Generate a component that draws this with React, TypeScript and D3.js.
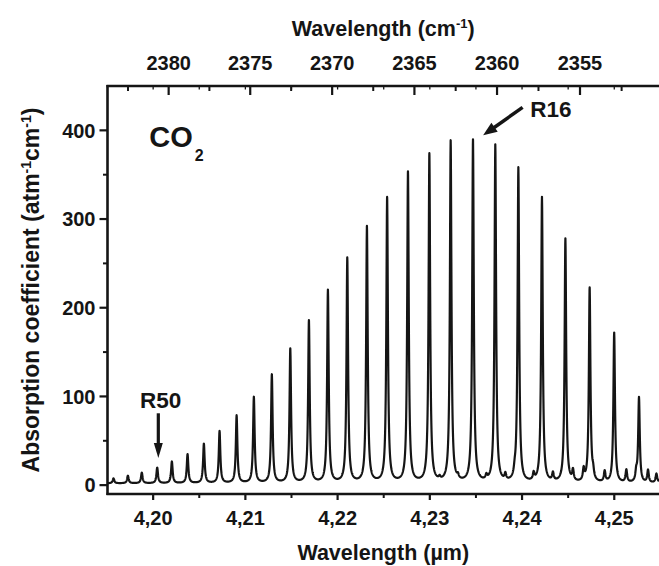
import React, { useMemo } from "react";
import * as d3 from "d3";

const W = 659;
const H = 566;
const PLOT_LEFT = 107.5;
const PLOT_RIGHT = 659;
const PLOT_TOP = 86;
const PLOT_BOTTOM = 494;

const xDomain = [4.19505, 4.25485];
const yDomain = [-10, 450];

// R-branch lines of CO2 (µm, absorption coefficient)
const mainLinePos = [
  4.1957, 4.19726, 4.19877, 4.20044, 4.20203, 4.20373, 4.2055, 4.2072, 4.20905,
  4.21092, 4.21287, 4.21487, 4.21689, 4.21895, 4.22105, 4.22318, 4.22537, 4.22763,
  4.22995, 4.23226, 4.23468, 4.2371, 4.2396, 4.24216, 4.2447, 4.24733, 4.24999,
  4.25268, 4.25548,
];
const mainLineHeight = [
  7.5, 10.5, 13.9, 19.5, 26.3, 34.6, 46.2, 60.5, 78, 98.8, 124, 152.9, 184.8,
  218.9, 255, 290.4, 323, 351.9, 372.2, 386.8, 388, 382.3, 356.4, 323.4, 276.8,
  221, 171, 97.7, 40,
];
// weak hot-band lines
const hotLinePos = [
  4.23106, 4.23305, 4.23613, 4.23819, 4.2392, 4.24126, 4.24335, 4.24552, 4.24668,
  4.24771, 4.24896, 4.25131, 4.25238, 4.25366, 4.25457,
];
const hotLineHeight = [3, 4, 5, 7, 6, 8, 9, 12, 13, 8, 12, 14, 10, 14, 10];

const xMajorTicks = [4.2, 4.21, 4.22, 4.23, 4.24, 4.25];
const xMinorTicks = [4.205, 4.215, 4.225, 4.235, 4.245];
const yMajorTicks = [0, 100, 200, 300, 400];
const yMinorTicks = [50, 150, 250, 350];
const topMajorTicks = [2380, 2375, 2370, 2365, 2360, 2355];
const topMinorTicks = [2382.5, 2377.5, 2372.5, 2367.5, 2362.5, 2357.5, 2352.5];

const baselineLevel = 2;
const halfWidth = 0.0001; // µm

const FONT = "'Liberation Sans', Arial, Helvetica, sans-serif";
const INK = "#151515";

const commaFmt = d3.formatLocale({
  decimal: ",",
  thousands: ".",
  grouping: [3],
  currency: ["", ""],
}).format(".2f");

export default function App() {
  const x = d3.scaleLinear().domain(xDomain).range([PLOT_LEFT, PLOT_RIGHT]);
  const y = d3.scaleLinear().domain(yDomain).range([PLOT_BOTTOM, PLOT_TOP]);

  const pathD = useMemo(() => {
    const n = 3200;
    const step = (xDomain[1] - xDomain[0]) / n;
    const xs = d3.range(xDomain[0], xDomain[1] + step / 2, step)
      .concat(mainLinePos.filter((p) => p >= xDomain[0] && p <= xDomain[1]))
      .concat(hotLinePos.filter((p) => p >= xDomain[0] && p <= xDomain[1]))
      .sort((a, b) => a - b);
    const g2 = halfWidth * halfWidth;
    const pts: [number, number][] = xs.map((v) => {
      let s = baselineLevel;
      mainLinePos.forEach((p, i) => {
        const d = v - p;
        s += (mainLineHeight[i] - baselineLevel) * g2 / (d * d + g2);
      });
      hotLinePos.forEach((p, i) => {
        const d = v - p;
        s += hotLineHeight[i] * g2 / (d * d + g2);
      });
      return [v, s];
    });
    const line = d3.line<[number, number]>()
      .x((d) => x(d[0]))
      .y((d) => y(d[1]));
    return line(pts) || "";
  }, []);

  // annotation anchors in data units
  const r16Tip = [x(4.23578), y(394.4)];
  const r16Tail = [x(4.24006), y(425.9)];
  const r50X = x(4.20056);
  const r50Top = y(81);
  const r50Tip = y(30.5);

  const arrowHead = (tx: number, ty: number, fx: number, fy: number, len: number, wid: number) => {
    const dx = tx - fx;
    const dy = ty - fy;
    const L = Math.sqrt(dx * dx + dy * dy);
    const ux = dx / L, uy = dy / L;
    const bx = tx - ux * len, by = ty - uy * len;
    const px = -uy * wid / 2, py = ux * wid / 2;
    return `M${tx},${ty}L${bx + px},${by + py}L${bx - px},${by - py}Z`;
  };

  return (
    <svg
      width={W}
      height={H}
      style={{ position: "absolute", left: 0, top: 0, background: "#fff" }}
      fontFamily={FONT}
    >
      <defs>
        <clipPath id="plotClip">
          <rect x={PLOT_LEFT} y={PLOT_TOP} width={PLOT_RIGHT - PLOT_LEFT} height={PLOT_BOTTOM - PLOT_TOP} />
        </clipPath>
      </defs>
      <rect x={0} y={0} width={W} height={H} fill="#fff" />

      {/* spectrum */}
      <path d={pathD} fill="none" stroke={INK} strokeWidth={2.2} strokeLinejoin="round" clipPath="url(#plotClip)" />

      {/* axes lines */}
      <line x1={PLOT_LEFT} x2={PLOT_LEFT} y1={PLOT_TOP - 1} y2={PLOT_BOTTOM + 1} stroke={INK} strokeWidth={2.6} />
      <line x1={PLOT_LEFT - 1} x2={PLOT_RIGHT} y1={PLOT_BOTTOM} y2={PLOT_BOTTOM} stroke={INK} strokeWidth={2.6} />
      <line x1={PLOT_LEFT - 1} x2={PLOT_RIGHT} y1={PLOT_TOP} y2={PLOT_TOP} stroke={INK} strokeWidth={2.6} />

      {/* left ticks */}
      {yMajorTicks.map((t) => (
        <g key={"ym" + t}>
          <line x1={PLOT_LEFT - 8} x2={PLOT_LEFT} y1={y(t)} y2={y(t)} stroke={INK} strokeWidth={2.2} />
          <text x={PLOT_LEFT - 12} y={y(t)} dy="0.36em" textAnchor="end" fontSize={20} fontWeight="bold" fill={INK}>
            {t}
          </text>
        </g>
      ))}
      {yMinorTicks.map((t) => (
        <line key={"yn" + t} x1={PLOT_LEFT - 4.5} x2={PLOT_LEFT} y1={y(t)} y2={y(t)} stroke={INK} strokeWidth={2} />
      ))}

      {/* bottom ticks */}
      {xMajorTicks.map((t) => (
        <g key={"xm" + t}>
          <line x1={x(t)} x2={x(t)} y1={PLOT_BOTTOM} y2={PLOT_BOTTOM + 6} stroke={INK} strokeWidth={2.2} />
          <text x={x(t)} y={PLOT_BOTTOM + 31} textAnchor="middle" fontSize={20} fontWeight="bold" fill={INK}>
            {commaFmt(t)}
          </text>
        </g>
      ))}
      {xMinorTicks.map((t) => (
        <line key={"xn" + t} x1={x(t)} x2={x(t)} y1={PLOT_BOTTOM} y2={PLOT_BOTTOM + 4} stroke={INK} strokeWidth={2} />
      ))}

      {/* top axis (wavenumber) */}
      {topMajorTicks.map((t) => (
        <g key={"tm" + t}>
          <line x1={x(1e4 / t)} x2={x(1e4 / t)} y1={PLOT_TOP} y2={PLOT_TOP + 9} stroke={INK} strokeWidth={2.2} />
          <text x={x(1e4 / t)} y={PLOT_TOP - 16} textAnchor="middle" fontSize={20} fontWeight="bold" fill={INK}>
            {t}
          </text>
        </g>
      ))}
      {topMinorTicks.map((t) => (
        <line key={"tn" + t} x1={x(1e4 / t)} x2={x(1e4 / t)} y1={PLOT_TOP} y2={PLOT_TOP + 5} stroke={INK} strokeWidth={2} />
      ))}
      {xMajorTicks.concat(xMinorTicks).map((t) => (
        <line key={"tu" + t} x1={x(t)} x2={x(t)} y1={PLOT_TOP} y2={PLOT_TOP + 3.5} stroke={INK} strokeWidth={1.3} />
      ))}

      {/* axis titles */}
      <text x={(PLOT_LEFT + PLOT_RIGHT) / 2} y={560} textAnchor="middle" fontSize={21.5} fontWeight="bold" fill={INK}>
        Wavelength (µm)
      </text>
      <text x={(PLOT_LEFT + PLOT_RIGHT) / 2} y={36} textAnchor="middle" fontSize={21.5} fontWeight="bold" fill={INK}>
        Wavelength (cm<tspan dy={-8} fontSize={13}>-1</tspan><tspan dy={8}>)</tspan>
      </text>
      <text
        transform={`translate(39, ${(PLOT_TOP + PLOT_BOTTOM) / 2}) rotate(-90)`}
        textAnchor="middle"
        fontSize={23}
        fontWeight="bold"
        fill={INK}
      >
        Absorption coefficient (atm<tspan dy={-8} fontSize={14}>-1</tspan>
        <tspan dy={8}>cm</tspan>
        <tspan dy={-8} fontSize={14}>-1</tspan>
        <tspan dy={8}>)</tspan>
      </text>

      {/* CO2 label */}
      <text x={x(4.19958)} y={y(381.2)} fontSize={29} fontWeight="bold" fill={INK}>
        CO<tspan dx={2} dy={14} fontSize={16}>2</tspan>
      </text>

      {/* R16 annotation */}
      <text x={x(4.24089)} y={y(415)} fontSize={22.5} fontWeight="bold" fill={INK}>
        R16
      </text>
      <line x1={r16Tail[0]} y1={r16Tail[1]} x2={r16Tip[0] + (r16Tail[0] - r16Tip[0]) * 0.2} y2={r16Tip[1] + (r16Tail[1] - r16Tip[1]) * 0.2} stroke={INK} strokeWidth={3.5} />
      <path d={arrowHead(r16Tip[0], r16Tip[1], r16Tail[0], r16Tail[1], 14, 11)} fill={INK} />

      {/* R50 annotation */}
      <text x={x(4.19857)} y={y(86.4)} fontSize={22.5} fontWeight="bold" fill={INK}>
        R50
      </text>
      <line x1={r50X} x2={r50X} y1={r50Top} y2={r50Tip - 12} stroke={INK} strokeWidth={3.2} />
      <path d={arrowHead(r50X, r50Tip, r50X, r50Top, 15, 9)} fill={INK} />
    </svg>
  );
}
